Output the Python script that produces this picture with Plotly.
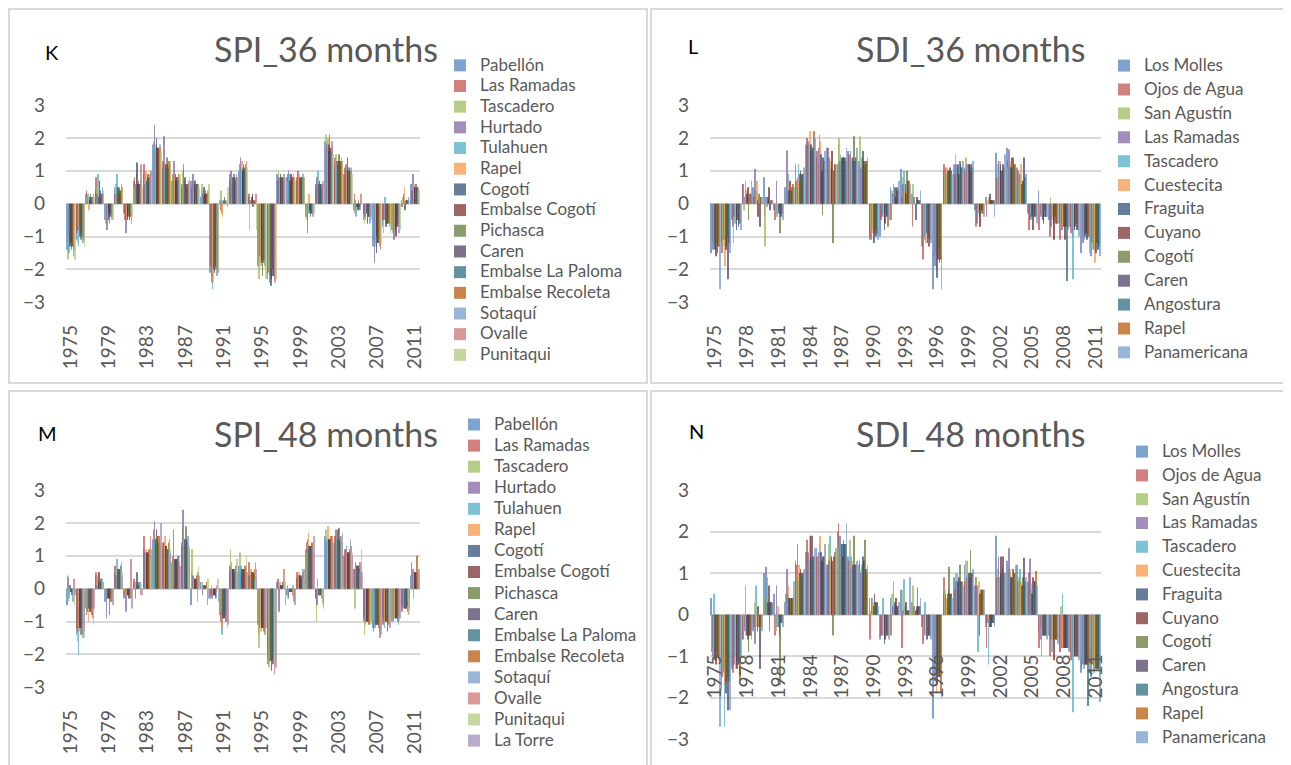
import plotly.graph_objects as go

W, H = 1291, 765
OFF = 8  # page offset of the figure inside the html body

# ---------------- categories & tick labels ----------------
years = ["1975", "1976", "1977", "1978", "1979", "1980", "1981", "1982", "1983", "1984",
         "1985", "1986", "1987", "1988", "1989", "1990", "1991", "1992", "1993", "1994",
         "1995", "1996", "1997", "1998", "1999", "2000", "2001", "2002", "2003", "2004",
         "2005", "2006", "2007", "2008", "2009", "2010", "2011"]
ticks_4y = ["1975", "1979", "1983", "1987", "1991", "1995", "1999", "2003", "2007", "2011"]
ticks_3y = ["1975", "1978", "1981", "1984", "1987", "1990", "1993", "1996", "1999", "2002",
            "2005", "2008", "2011"]

colors = ["#4F81BD", "#C0504D", "#9BBB59", "#8064A2", "#4BACC6", "#F79646", "#2C4D75",
          "#772C2A", "#5F7530", "#4D3B62", "#276A7C", "#B65708", "#729ACA", "#CD7371",
          "#AFC97A", "#A08BBA"]

# ---------------- K: SPI_36 months ----------------
spi36_pabellon = [-1.4,-1.1,0.3,0.4,-0.5,0.5,-0.3,0.7,0.9,1.8,1.1,0.7,0.5,0.7,0.2,-2.1,0.1,0.9,1.0,0.2,-1.9,-2.3,0.9,0.8,0.7,-0.4,0.5,1.9,1.2,0.9,-0.2,-0.5,-1.3,-0.7,-0.8,0.1,0.6]
spi36_lasramadas = [-1.2,-0.9,0.4,0.8,-0.3,0.3,-0.5,0.8,1.2,1.6,1.3,0.9,0.6,0.5,0.4,-1.9,-0.2,0.7,1.2,0.3,-1.7,-2.1,0.7,0.9,0.8,-0.2,0.6,1.7,1.4,1.1,0.3,-0.3,-1.1,-0.5,-0.6,-0.1,0.4]
spi36_tascadero = [-1.7,-1.2,0.2,0.5,-0.6,0.6,-0.4,0.5,0.7,1.9,1.3,0.8,1.0,0.7,0.6,-2.2,0.4,0.9,1.1,-0.8,-2.3,-2.0,1.0,0.7,0.9,-0.5,0.7,2.1,1.5,1.0,-0.3,-0.6,-1.0,-0.9,-0.9,0.2,0.3]
spi36_hurtado = [-1.0,-0.8,0.1,0.3,-0.8,0.4,-0.9,0.6,0.6,2.4,2.05,1.3,1.2,0.9,0.3,-2.4,-0.3,1.0,1.4,0.1,-1.6,-2.4,0.8,1.0,1.0,-0.9,0.8,1.8,1.3,1.2,0.1,-0.4,-1.8,-0.5,-1.1,0.3,0.9]
spi36_tulahuen = [-1.5,-1.3,0.3,0.9,-0.2,0.9,-0.3,0.4,0.9,1.7,1.0,0.6,0.4,0.6,0.2,-2.6,0.1,0.6,1.0,0.0,-1.8,-2.2,0.6,0.9,0.6,-0.3,1.0,1.9,1.1,0.8,-0.4,-0.5,-1.2,0.2,-0.6,0.1,0.4]
spi36_rapel = [-1.1,-0.7,-0.2,0.3,-0.4,0.2,-0.5,0.9,1.0,1.8,1.2,0.8,0.7,0.4,0.2,-2.4,-0.4,0.8,1.3,0.1,-1.9,-2.1,0.7,0.8,0.9,0.3,0.5,2.0,1.2,0.9,0.0,-0.3,-1.3,-0.6,-0.7,0.5,0.6]
spi36_cogoti = [-1.3,-1.0,0.2,0.2,-0.5,0.5,-0.5,1.25,0.7,2.0,1.2,0.9,0.8,0.6,0.5,-2.0,0.0,0.8,1.05,0.2,-1.7,-2.5,0.9,0.7,0.8,-0.3,0.6,1.6,1.3,1.4,-0.1,-0.3,-1.5,-0.7,-0.8,-0.2,0.5]
spi36_embcogoti = [-1.2,-0.9,0.1,0.7,-0.3,0.3,-0.4,0.6,0.8,1.7,1.1,0.7,0.6,0.7,0.3,-2.1,0.1,0.7,1.0,0.3,-1.8,-2.3,0.8,0.9,0.7,-0.2,0.7,1.8,1.2,1.0,-0.2,-0.6,-1.0,-0.6,-1.0,0.0,0.5]
spi36_pichasca = [-1.4,-1.1,0.3,0.2,-0.6,0.5,-0.3,0.7,0.9,1.6,1.4,0.8,0.5,0.5,0.4,-2.0,0.2,0.9,1.2,-0.1,-2.2,-2.0,0.8,0.8,0.8,-0.4,0.6,2.1,1.5,1.1,0.1,-0.4,-1.2,-0.6,-0.7,0.1,0.6]
spi36_caren = [-1.3,-0.9,0.2,0.4,-0.4,0.4,-0.5,0.6,0.8,1.7,1.2,0.8,0.6,0.6,0.3,-1.9,0.0,0.8,1.1,0.1,-1.8,-2.2,0.8,0.8,0.8,-0.3,0.6,1.7,1.3,1.0,-0.1,-0.4,-1.2,-0.6,-0.7,0.1,0.5]
spi36_embpaloma = [-1.2,-1.0,0.1,0.3,-0.3,0.3,-0.4,0.5,0.7,1.6,1.1,0.7,0.5,0.6,0.3,-1.8,0.1,0.7,1.0,0.1,-1.7,-2.1,0.7,0.7,0.7,-0.3,0.5,1.6,1.2,0.9,-0.2,-0.4,-1.1,-0.6,-0.6,0.0,0.5]
spi36_embrecoleta = [-1.3,-1.0,0.2,0.3,-0.4,0.4,-0.4,0.6,0.8,1.7,1.3,0.9,0.6,0.6,0.3,-2.0,0.0,0.8,1.2,0.1,-1.8,-2.2,0.8,0.8,0.8,-0.3,0.6,1.7,1.3,1.0,-0.1,-0.4,-1.2,-0.6,-0.7,0.1,0.5]
spi36_sotaqui = [-1.6,-1.2,0.1,0.5,-0.5,0.6,-0.3,0.7,0.9,1.8,1.0,0.7,0.6,0.5,0.2,-2.2,0.1,0.9,1.0,0.0,-1.9,-2.3,0.9,0.9,0.9,-0.4,0.7,1.9,1.4,1.1,-0.2,-0.6,-1.3,-0.7,-0.9,0.2,0.4]
spi36_ovalle = [-1.4,-1.1,0.3,0.3,-0.4,0.5,-0.6,1.2,1.0,1.7,1.2,0.8,0.7,0.6,0.4,-2.1,-0.1,0.8,1.3,0.3,-2.0,-2.4,0.8,0.8,0.8,-0.3,0.6,1.8,1.3,1.0,0.3,-0.4,-1.4,-0.6,-0.7,0.0,0.5]
spi36_punitaqui = [-1.7,-1.3,0.2,0.4,-0.5,0.5,-0.4,0.5,0.8,1.6,1.3,0.9,0.8,0.5,0.6,-2.0,0.5,0.8,1.1,-0.8,-2.3,-2.3,0.8,0.7,0.8,-0.3,0.7,1.5,1.3,0.9,0.0,-0.5,-1.2,-0.9,-0.8,0.1,0.4]

# ---------------- L: SDI_36 months ----------------
sdi36_losmolles = [-1.5,-1.2,-0.5,0.6,0.5,0.8,-0.2,0.5,1.2,1.8,1.4,1.7,1.2,1.6,1.3,-1.0,-1.0,0.5,1.05,0.3,-1.3,-2.6,1.0,1.2,1.1,-0.2,0.2,1.55,1.7,1.1,-0.3,0.4,-0.5,-0.6,-0.7,-1.5,-1.6]
sdi36_ojosdeagua = [-1.0,-1.5,-0.7,0.6,0.2,-0.4,-0.5,0.3,0.7,2.0,1.6,1.7,1.8,1.5,1.2,-1.1,-0.5,-0.5,0.2,-0.7,-1.7,-1.6,1.2,0.9,1.0,-0.7,-0.4,0.8,1.3,1.0,-0.8,-0.8,-1.0,-1.1,-0.9,-0.8,-1.2]
sdi36_sanagustin = [-1.2,-1.3,-1.2,-0.2,0.4,-1.3,-0.3,0.3,0.5,1.6,1.2,1.3,2.0,1.2,2.05,-0.7,-0.3,0.4,0.8,0.6,-0.8,-1.5,0.8,1.5,1.4,-0.3,0.1,1.2,1.1,0.6,-0.3,-0.3,0.2,-0.6,-0.7,-0.9,-1.4]
sdi36_lasramadas = [-1.4,-1.1,-0.4,0.2,1.05,0.2,0.7,1.62,0.8,1.9,1.7,1.4,1.3,1.6,1.1,-1.1,-0.4,0.3,0.6,0.2,-1.0,-1.9,1.1,1.2,1.2,-0.6,0.0,1.3,1.65,0.9,-0.5,-0.4,-0.7,-0.8,-1.0,-1.2,-1.3]
sdi36_tascadero = [-1.3,-1.0,-0.6,0.7,0.4,-0.1,-0.4,0.9,1.2,1.8,2.1,1.0,1.5,1.3,1.4,-0.8,-0.3,0.6,1.0,0.1,-1.1,-1.6,0.9,1.0,1.1,-0.3,0.1,1.0,1.2,0.9,-0.5,-0.3,-0.4,-0.8,-2.3,-1.1,-1.4]
sdi36_cuestecita = [-1.2,-1.9,-0.6,0.4,0.7,0.1,-0.2,0.6,0.7,2.2,1.9,1.3,1.3,1.4,1.3,-0.9,-0.4,0.2,0.4,0.0,-1.2,-2.0,1.1,1.1,1.2,-0.2,0.2,1.3,1.3,1.2,-0.3,-0.2,-0.5,-0.7,-0.8,-1.0,-1.8]
sdi36_fraguita = [-1.4,-1.4,-0.8,0.3,0.1,0.2,-0.3,0.4,0.9,1.6,1.5,1.1,1.4,1.4,1.6,-1.2,-0.8,0.5,0.6,-0.5,-0.9,-2.25,1.0,1.2,1.2,-0.4,0.3,1.2,1.1,0.6,-0.4,-0.5,-0.6,-0.7,-0.8,-1.0,-1.5]
sdi36_cuyano = [-1.6,-1.3,-0.5,0.5,-0.4,0.5,-0.3,0.7,1.0,1.8,1.0,1.6,1.4,1.3,1.3,-0.9,-0.6,0.2,0.3,0.2,-1.2,-1.7,1.0,0.9,1.2,-0.7,0.1,1.0,1.4,0.7,-0.8,-0.6,-1.1,-1.1,-0.7,-0.9,-1.2]
sdi36_cogoti = [-1.2,-1.0,-0.5,-0.5,0.3,0.0,-0.9,0.4,0.8,1.7,-0.35,-1.2,1.2,2.05,1.2,-0.8,-0.3,0.4,1.0,0.1,-1.0,-1.4,1.0,1.3,1.0,-0.3,0.1,1.0,1.1,0.7,-0.3,-0.2,-0.4,-0.6,-0.6,-0.9,-1.2]
sdi36_caren = [-1.5,-2.3,-0.7,0.0,-0.7,-0.2,-0.4,0.4,0.9,1.6,1.4,1.0,1.4,1.3,1.2,-1.0,-0.4,0.5,0.7,0.1,-1.3,-1.8,1.1,1.2,1.2,-0.2,0.1,1.2,1.4,1.4,-0.4,-0.4,-0.6,-0.7,-0.8,-1.1,-1.4]
sdi36_angostura = [-1.3,-1.2,-0.6,0.3,0.2,0.1,-0.3,0.5,0.9,1.7,1.3,1.2,1.4,1.4,1.3,-0.9,-0.4,0.4,0.4,0.1,-1.1,-1.7,1.0,1.1,1.1,-0.3,0.1,1.1,1.2,0.8,-0.4,-0.4,-0.6,-2.35,-0.8,-1.0,-1.3]
sdi36_rapel = [-1.3,-1.1,-0.6,0.3,0.2,0.1,-0.3,0.6,0.9,2.2,1.3,1.2,1.3,1.4,1.3,-0.9,-0.7,0.4,0.7,0.1,-1.1,-1.7,1.0,1.1,1.0,-0.3,0.1,1.1,1.2,0.8,-0.4,-0.4,-0.6,-0.7,-0.8,-1.0,-1.2]
sdi36_panamericana = [-2.6,-1.5,-0.8,0.7,0.2,0.0,-0.5,0.5,1.1,2.0,1.6,1.2,1.7,1.7,1.4,-1.1,-0.5,0.7,0.6,0.4,-1.2,-2.6,0.9,1.3,1.3,-0.4,-0.4,1.5,1.2,0.9,-0.6,-0.4,-0.6,-0.8,-1.0,-1.5,-1.6]

# ---------------- M: SPI_48 months ----------------
spi48_pabellon = [-0.5,-1.4,-0.6,0.4,-0.4,0.5,-0.3,0.2,1.2,1.5,1.2,0.8,1.4,-0.5,0.2,-0.3,-0.8,0.5,0.7,0.4,-1.1,-2.1,0.2,-0.2,0.3,1.2,-0.3,1.6,1.4,1.0,0.6,-1.0,-1.2,-0.9,-1.0,-0.5,0.4]
spi48_lasramadas = [0.4,-1.2,-0.8,0.5,-0.2,0.7,-0.2,0.3,1.6,1.8,1.4,1.0,1.3,0.5,0.0,-0.2,-1.0,0.7,0.5,0.8,-1.4,-2.3,0.3,0.1,0.5,1.4,-0.3,1.5,1.6,1.2,0.6,-0.9,-1.3,-1.1,-0.8,-0.7,0.8]
spi48_tascadero = [-0.4,-1.6,-0.7,0.2,-0.3,0.5,-0.1,0.0,1.0,1.6,1.3,0.8,1.9,1.2,0.2,0.1,-0.7,1.2,1.1,0.5,-1.8,-2.4,0.0,-0.3,0.4,1.1,-1.0,1.8,1.3,1.1,-0.6,-1.4,-1.0,-1.0,-0.9,-0.6,0.5]
spi48_hurtado = [0.35,-1.3,-0.7,0.1,-0.9,0.4,-0.7,-0.3,1.1,2.05,1.4,1.8,2.4,0.4,-0.2,-0.3,-1.1,0.6,0.5,0.4,-1.2,-2.2,-0.7,-0.3,0.4,1.5,-0.5,1.4,1.8,1.2,0.8,-1.0,-1.1,-1.0,-1.0,-0.6,0.6]
spi48_tulahuen = [-0.3,-2.0,-0.6,0.4,-0.2,0.9,-0.2,0.2,1.0,1.4,1.3,0.9,1.5,0.3,0.1,-0.2,-1.4,0.8,0.7,0.5,-1.0,-2.1,0.1,-0.1,0.3,1.2,0.3,1.5,1.5,1.3,0.7,-1.1,-1.2,-1.2,-0.9,-0.5,-0.3]
spi48_rapel = [-0.2,-1.3,-1.0,0.3,-0.3,0.6,-0.2,0.1,1.2,1.5,1.6,0.9,1.5,0.3,0.1,-0.2,-1.2,0.6,0.6,0.6,-1.3,-2.2,0.2,0.0,0.5,1.7,-0.2,1.9,1.5,1.1,0.7,-1.0,-1.2,-1.0,-0.9,-0.6,0.5]
spi48_cogoti = [0.1,-1.2,-0.6,0.2,-0.3,0.6,-0.2,0.5,1.1,1.5,1.3,0.9,1.5,0.3,0.1,-0.2,-0.9,0.6,0.6,0.5,-1.2,-2.2,0.1,-0.1,0.4,1.3,-0.2,1.5,1.8,1.1,0.7,-1.0,-1.1,-1.0,-0.9,-0.6,0.5]
spi48_embcogoti = [-0.1,-1.2,-0.7,0.5,-0.3,0.5,-0.2,0.1,1.1,1.8,1.3,0.9,1.4,0.3,0.1,-0.2,-0.9,0.6,0.6,0.5,-1.2,-2.5,0.1,-0.1,0.4,1.3,-0.2,1.5,1.5,1.1,0.7,-1.0,-1.1,-1.0,-0.9,-0.6,0.5]
spi48_pichasca = [-0.1,-1.4,-0.7,0.2,-0.8,0.6,-0.2,0.1,1.1,1.5,1.3,0.9,1.9,0.3,0.1,-0.2,-0.9,0.6,0.6,0.5,-1.2,-2.2,0.1,-0.1,0.4,1.3,-0.2,1.5,1.85,1.1,0.7,-1.0,-1.1,-1.0,-0.9,-0.6,0.5]
spi48_caren = [-0.1,-1.2,-0.7,0.2,-0.3,0.6,-0.3,0.1,1.1,1.6,1.2,0.9,1.5,0.3,0.1,-0.2,-0.9,0.6,0.6,0.5,-1.2,-2.3,0.1,-0.1,0.4,1.3,-0.2,1.5,1.5,1.1,0.7,-1.0,-1.1,-1.3,-0.9,-0.6,0.5]
spi48_embpaloma = [-0.2,-1.1,-0.6,0.3,-0.2,0.5,-0.1,0.2,1.0,1.4,1.2,0.8,1.4,0.2,0.0,-0.3,-0.8,0.5,0.5,0.4,-1.1,-2.0,0.2,0.0,0.3,1.2,-0.1,1.4,1.4,1.0,0.6,-0.9,-1.0,-0.9,-0.8,-0.5,0.4]
spi48_embrecoleta = [0.0,-1.4,-0.8,0.3,-0.4,0.7,-0.3,0.0,1.2,1.6,1.4,1.0,1.3,0.4,0.2,-0.1,-1.0,0.7,0.7,0.6,-1.3,-2.3,0.0,-0.2,0.5,1.4,-0.3,1.6,1.6,1.2,0.8,-1.1,-1.2,-1.1,-1.0,-0.7,1.0]
spi48_sotaqui = [-0.4,-1.5,-0.5,0.3,-0.2,0.7,-0.1,0.2,1.0,1.4,1.2,1.0,1.6,-0.4,0.0,-0.3,-0.8,0.5,0.6,0.3,-1.1,-2.1,0.2,0.1,0.6,1.2,-0.1,1.6,1.6,1.5,0.5,-0.9,-1.3,-0.9,-1.1,-0.4,0.4]
spi48_ovalle = [0.3,-1.1,-0.9,0.1,-0.4,0.8,0.9,-0.2,1.6,1.3,1.5,0.8,1.3,0.5,-0.5,0.1,-1.0,0.7,0.7,0.8,-1.4,-2.6,0.6,-0.4,0.5,1.1,-0.4,1.6,1.4,1.3,0.8,-1.0,-1.5,-1.2,-0.8,-0.8,0.5]
spi48_punitaqui = [-0.5,-1.5,-1.1,0.2,-0.4,0.5,-0.3,0.1,1.0,1.4,1.2,1.0,1.3,0.7,0.3,0.3,-1.2,0.9,1.0,0.3,-1.3,-2.2,0.2,0.0,0.3,1.2,-0.5,1.4,1.4,1.1,1.2,-1.1,-1.1,-0.9,-1.0,-0.7,0.3]
spi48_latorre = [-0.2,-1.3,-0.6,0.2,-0.5,0.4,-0.6,-0.2,1.2,2.0,1.1,0.7,1.2,0.4,-0.3,-0.4,-1.1,0.5,0.5,0.6,-1.2,-2.4,-0.5,-0.5,0.6,1.6,-0.6,1.4,1.7,1.0,0.5,-1.0,-1.4,-1.2,-0.9,-0.6,0.6]

# ---------------- N: SDI_48 months ----------------
sdi48_losmolles = [0.4,-1.8,-1.3,-0.6,-0.4,1.0,0.5,0.3,1.3,1.5,1.6,1.2,2.0,1.4,1.2,0.4,-0.6,0.4,0.6,0.3,-0.3,-2.5,0.5,0.9,1.2,0.7,-0.3,1.9,1.3,1.2,0.8,-0.4,-0.5,-0.9,-0.9,-1.4,-1.5]
sdi48_ojosdeagua = [-0.9,-1.5,-1.4,-0.6,-0.3,0.2,-0.5,0.5,1.2,1.8,1.4,1.2,2.2,1.3,1.3,-0.6,-0.5,-0.5,-0.8,0.1,-0.7,-1.3,0.9,0.6,0.8,0.9,-0.8,0.9,1.1,0.8,1.0,-0.8,-1.0,-0.9,-1.1,-1.3,-1.2]
sdi48_sanagustin = [-0.8,-1.3,-0.9,-0.3,0.3,0.4,-0.4,0.5,0.9,1.3,1.3,1.7,1.6,1.8,1.1,0.1,-0.3,0.5,0.6,0.7,-0.4,-1.2,0.6,1.0,1.3,0.9,0.0,1.1,1.1,0.9,0.8,-0.3,-0.5,0.2,-0.8,-1.1,-1.2]
sdi48_lasramadas = [-1.0,-1.4,-1.2,-0.4,-0.7,1.15,0.7,1.1,1.7,1.5,1.5,1.3,1.9,1.1,1.0,0.4,-0.5,0.2,0.1,0.2,-0.5,-1.6,0.5,0.8,0.9,0.7,-0.2,1.4,1.6,0.9,1.35,-0.6,-0.6,-0.8,-1.0,-1.2,-1.3]
sdi48_tascadero = [0.5,-2.7,-1.0,0.7,0.7,0.9,-0.3,0.5,0.8,1.3,1.7,1.9,1.8,1.4,1.2,0.4,0.4,0.8,0.85,0.1,0.3,-1.0,0.3,1.0,1.3,-0.9,-1.2,0.9,1.0,1.1,0.6,-1.0,-0.9,0.5,-2.35,-1.3,-1.4]
sdi48_cuestecita = [-1.0,-1.7,-1.3,-0.5,-0.3,0.5,0.2,0.7,1.2,1.9,1.9,1.4,1.7,1.3,1.0,0.3,-0.5,0.1,0.0,0.1,-0.5,-1.9,0.4,0.7,1.0,0.8,-0.1,0.9,1.1,0.8,0.75,-0.5,-0.6,-0.8,-0.9,-1.2,-1.3]
sdi48_fraguita = [-1.1,-1.9,-1.2,-0.5,-0.4,0.3,-0.3,0.4,1.0,1.4,1.5,1.4,1.7,1.2,1.4,0.2,-0.7,0.3,0.2,0.1,-0.6,-1.7,0.5,0.8,1.0,-0.5,-0.3,1.0,0.9,0.7,0.5,-0.5,-0.6,-0.8,-1.0,-1.2,-1.3]
sdi48_cuyano = [-1.2,-1.6,-1.3,-0.6,0.2,0.7,-0.5,0.4,1.1,1.9,1.3,1.3,1.4,1.1,1.3,0.5,-0.6,0.4,0.3,0.2,-0.6,-1.5,0.6,0.9,0.9,0.5,-0.3,1.4,0.9,0.7,0.9,-0.5,-1.1,-0.8,-1.0,-1.2,-1.3]
sdi48_cogoti = [-0.9,-1.5,-1.1,-0.9,-0.3,-0.4,-1.7,0.4,0.9,1.3,1.3,-0.5,1.8,1.9,1.8,0.3,-0.5,0.2,0.1,0.65,-0.5,-1.4,1.15,1.2,1.55,0.6,-0.2,1.1,1.1,0.9,0.8,-0.5,-0.6,-0.8,-1.0,-1.2,-1.3]
sdi48_caren = [-1.0,-2.3,-1.2,-0.5,-1.3,0.3,-0.2,0.4,1.0,1.9,1.4,1.4,1.7,1.2,1.1,0.3,-0.5,0.2,0.1,0.2,-0.5,-1.5,0.5,0.8,1.0,0.6,-0.2,1.4,1.1,1.37,0.8,-0.5,-0.6,-0.8,-1.0,-1.2,-1.3]
sdi48_angostura = [-1.0,-1.6,-1.2,-0.5,-0.3,0.3,-0.2,0.4,1.0,1.4,1.4,1.4,1.7,1.2,1.1,0.3,-0.5,0.2,0.1,0.2,-0.5,-1.5,0.5,0.8,1.0,0.6,-0.2,1.0,1.0,0.8,0.8,-0.5,-0.6,-0.8,-1.0,-2.2,-1.3]
sdi48_rapel = [-1.1,-1.6,-1.6,-0.5,-0.3,0.3,-0.2,0.4,1.0,1.4,1.4,1.5,1.7,1.2,1.0,0.3,-0.5,0.2,0.1,0.2,-0.5,-1.9,0.5,0.8,1.0,0.6,-0.2,1.0,1.0,0.8,1.05,-0.5,-0.6,-0.8,-1.0,-1.2,-1.3]
sdi48_panamericana = [-2.7,-2.3,-1.0,-0.6,-0.4,0.2,-0.3,0.8,1.1,1.6,1.7,1.6,2.2,1.3,1.2,0.2,-0.6,0.3,0.9,0.4,-0.6,-2.0,0.4,0.7,1.1,0.6,-0.3,1.0,1.2,0.9,0.7,-0.6,-0.7,-0.9,-1.1,-1.4,-2.1]

panels = [
    dict(key="K", title="SPI_36 months", ticks=ticks_4y, series=[
        ("Pabellón", spi36_pabellon), ("Las Ramadas", spi36_lasramadas), ("Tascadero", spi36_tascadero),
        ("Hurtado", spi36_hurtado), ("Tulahuen", spi36_tulahuen), ("Rapel", spi36_rapel),
        ("Cogotí", spi36_cogoti), ("Embalse Cogotí", spi36_embcogoti), ("Pichasca", spi36_pichasca),
        ("Caren", spi36_caren), ("Embalse La Paloma", spi36_embpaloma), ("Embalse Recoleta", spi36_embrecoleta),
        ("Sotaquí", spi36_sotaqui), ("Ovalle", spi36_ovalle), ("Punitaqui", spi36_punitaqui)]),
    dict(key="L", title="SDI_36 months", ticks=ticks_3y, series=[
        ("Los Molles", sdi36_losmolles), ("Ojos de Agua", sdi36_ojosdeagua), ("San Agustín", sdi36_sanagustin),
        ("Las Ramadas", sdi36_lasramadas), ("Tascadero", sdi36_tascadero), ("Cuestecita", sdi36_cuestecita),
        ("Fraguita", sdi36_fraguita), ("Cuyano", sdi36_cuyano), ("Cogotí", sdi36_cogoti),
        ("Caren", sdi36_caren), ("Angostura", sdi36_angostura), ("Rapel", sdi36_rapel),
        ("Panamericana", sdi36_panamericana)]),
    dict(key="M", title="SPI_48 months", ticks=ticks_4y, series=[
        ("Pabellón", spi48_pabellon), ("Las Ramadas", spi48_lasramadas), ("Tascadero", spi48_tascadero),
        ("Hurtado", spi48_hurtado), ("Tulahuen", spi48_tulahuen), ("Rapel", spi48_rapel),
        ("Cogotí", spi48_cogoti), ("Embalse Cogotí", spi48_embcogoti), ("Pichasca", spi48_pichasca),
        ("Caren", spi48_caren), ("Embalse La Paloma", spi48_embpaloma), ("Embalse Recoleta", spi48_embrecoleta),
        ("Sotaquí", spi48_sotaqui), ("Ovalle", spi48_ovalle), ("Punitaqui", spi48_punitaqui),
        ("La Torre", spi48_latorre)]),
    dict(key="N", title="SDI_48 months", ticks=ticks_3y, series=[
        ("Los Molles", sdi48_losmolles), ("Ojos de Agua", sdi48_ojosdeagua), ("San Agustín", sdi48_sanagustin),
        ("Las Ramadas", sdi48_lasramadas), ("Tascadero", sdi48_tascadero), ("Cuestecita", sdi48_cuestecita),
        ("Fraguita", sdi48_fraguita), ("Cuyano", sdi48_cuyano), ("Cogotí", sdi48_cogoti),
        ("Caren", sdi48_caren), ("Angostura", sdi48_angostura), ("Rapel", sdi48_rapel),
        ("Panamericana", sdi48_panamericana)]),
]

# ---------------- layout geometry (page pixels) ----------------
FONT = "Lato"
GREY = "#595959"
GRID = "#D9D9D9"
LEG_TEXT_PX = 17


def px(x):
    return (x - OFF) / W


def py(y):
    return 1 - (y - OFF) / H


geo = {
    "K": dict(x0=66, x1=420, yt=105, yb=302.3, box=(9, 9, 647, 383), title=(326, 48), letter=(52, 52),
              leg=(440, 50, 13.6, 0), xlab="bottom"),
    "L": dict(x0=710, x1=1101, yt=105, yb=302.3, box=(651, 9, 1289, 383), title=(970, 48), letter=(693, 46),
              leg=(1104, 50, 14.0, 2.7), xlab="bottom"),
    "M": dict(x0=66, x1=420, yt=490, yb=687.3, box=(9, 391, 647, 790), title=(326, 433), letter=(47, 433),
              leg=(454, 409, 13.9, 0), xlab="bottom"),
    "N": dict(x0=710, x1=1101, yt=490, yb=739.3, box=(651, 391, 1289, 790), title=(970, 433), letter=(696, 431),
              leg=(1122, 436, 14.0, 2.6), xlab="zero"),
}

fig = go.Figure()
shapes, annotations = [], []
layout_axes = {}

for i, p in enumerate(panels):
    g = geo[p["key"]]
    n = i + 1
    xa = "x" if n == 1 else f"x{n}"
    ya = "y" if n == 1 else f"y{n}"
    leg = "legend" if n == 1 else f"legend{n}"
    for j, (name, vals) in enumerate(p["series"]):
        fig.add_trace(go.Bar(
            x=years, y=vals, name=f'<span style="font-size:{LEG_TEXT_PX}px">{name}</span>',
            xaxis=xa, yaxis=ya, legend=leg, legendgroup=f"{p['key']}_{j}",
            marker=dict(color=colors[j], line=dict(width=0)), opacity=0.72,
        ))
    xdom = [px(g["x0"]), px(g["x1"])]
    ydom = [py(g["yb"]), py(g["yt"])]
    xkey = "xaxis" if n == 1 else f"xaxis{n}"
    ykey = "yaxis" if n == 1 else f"yaxis{n}"
    xdict = dict(domain=xdom, type="category", tickmode="array", tickvals=p["ticks"], ticktext=p["ticks"],
                 tickangle=-90, tickfont=dict(family=FONT, size=19, color=GREY), showgrid=False,
                 showline=False, ticks="", ticklabelstandoff=18, range=[-0.5, len(years) - 0.5],
                 fixedrange=True, automargin=False)
    if g["xlab"] == "zero":
        # labels sit just under the zero line (axis crosses at 0)
        yzero = (g["yt"] + g["yb"]) / 2
        xdict.update(anchor="free", position=py(yzero + 17))
    else:
        xdict.update(anchor=ya)
    layout_axes[xkey] = xdict
    layout_axes[ykey] = dict(domain=ydom, anchor=xa, range=[-3, 3], dtick=1, tick0=0,
                             tickfont=dict(family=FONT, size=19, color=GREY), showgrid=True,
                             gridcolor=GRID, gridwidth=2, zeroline=True, zerolinecolor=GRID,
                             zerolinewidth=2, showline=False, ticks="", ticklabelstandoff=20,
                             fixedrange=True, automargin=False)
    lx, ly, lfs, lgap = g["leg"]
    layout_axes[leg] = dict(x=px(lx), y=py(ly), xanchor="left", yanchor="top", xref="paper", yref="paper",
                            font=dict(family=FONT, size=lfs, color=GREY), bgcolor="rgba(0,0,0,0)",
                            traceorder="grouped", tracegroupgap=lgap, itemclick=False, itemdoubleclick=False)
    bx0, by0, bx1, by1 = g["box"]
    shapes.append(dict(type="rect", xref="paper", yref="paper", x0=px(bx0), x1=px(bx1),
                       y0=py(by0), y1=py(by1), line=dict(color=GRID, width=2), layer="below"))
    tx, ty = g["title"]
    annotations.append(dict(text=p["title"], x=px(tx), y=py(ty), xref="paper", yref="paper",
                            showarrow=False, xanchor="center", yanchor="middle",
                            font=dict(family=FONT, size=34, color=GREY)))
    lxx, lyy = g["letter"]
    annotations.append(dict(text=p["key"], x=px(lxx), y=py(lyy), xref="paper", yref="paper",
                            showarrow=False, xanchor="center", yanchor="middle",
                            font=dict(family=FONT, size=20, color="#000000")))

fig.update_layout(
    template="none",
    width=W, height=H, margin=dict(l=0, r=0, t=0, b=0, pad=0, autoexpand=False), autosize=False,
    paper_bgcolor="white", plot_bgcolor="white", barmode="group", bargap=0.1, bargroupgap=0,
    showlegend=True, shapes=shapes, annotations=annotations,
    font=dict(family=FONT, color=GREY), **layout_axes,
)

fig.write_html("out.html", config={"displayModeBar": False})
